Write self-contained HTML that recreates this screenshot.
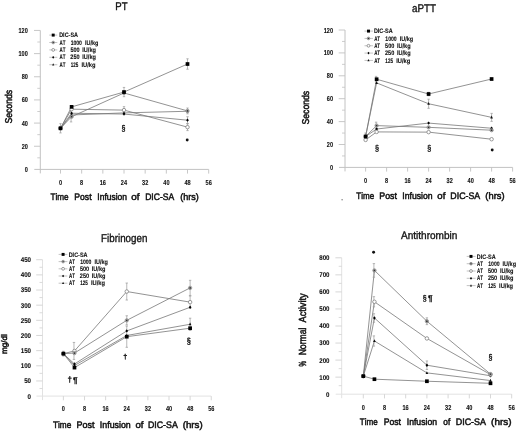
<!DOCTYPE html>
<html><head><meta charset="utf-8"><style>
html,body{margin:0;padding:0;background:#fff;}
svg{display:block;font-family:"Liberation Sans", sans-serif;filter:grayscale(1) blur(0.3px);text-rendering:geometricPrecision;font-kerning:none;}
</style></head><body>
<svg width="520" height="432" viewBox="0 0 520 432">
<rect width="520" height="432" fill="#fff"/>
<line x1="40.30" y1="30.44" x2="40.30" y2="173.40" stroke="#c2c2c2" stroke-width="1.0"/>
<line x1="34.30" y1="169.40" x2="208.68" y2="169.40" stroke="#c2c2c2" stroke-width="1.0"/>
<text x="24.73" y="171.90" font-size="7.16" font-weight="bold" fill="#111" textLength="3.10" lengthAdjust="spacingAndGlyphs" stroke="#111" stroke-width="0.1">0</text>
<line x1="34.00" y1="146.24" x2="40.30" y2="146.24" stroke="#c2c2c2" stroke-width="0.9"/>
<text x="21.63" y="148.74" font-size="7.16" font-weight="bold" fill="#111" textLength="6.20" lengthAdjust="spacingAndGlyphs" stroke="#111" stroke-width="0.1">20</text>
<line x1="34.00" y1="123.08" x2="40.30" y2="123.08" stroke="#c2c2c2" stroke-width="0.9"/>
<text x="21.63" y="125.58" font-size="7.16" font-weight="bold" fill="#111" textLength="6.20" lengthAdjust="spacingAndGlyphs" stroke="#111" stroke-width="0.1">40</text>
<line x1="34.00" y1="99.92" x2="40.30" y2="99.92" stroke="#c2c2c2" stroke-width="0.9"/>
<text x="21.63" y="102.42" font-size="7.16" font-weight="bold" fill="#111" textLength="6.20" lengthAdjust="spacingAndGlyphs" stroke="#111" stroke-width="0.1">60</text>
<line x1="34.00" y1="76.76" x2="40.30" y2="76.76" stroke="#c2c2c2" stroke-width="0.9"/>
<text x="21.63" y="79.26" font-size="7.16" font-weight="bold" fill="#111" textLength="6.20" lengthAdjust="spacingAndGlyphs" stroke="#111" stroke-width="0.1">80</text>
<line x1="34.00" y1="53.60" x2="40.30" y2="53.60" stroke="#c2c2c2" stroke-width="0.9"/>
<text x="18.53" y="56.10" font-size="7.16" font-weight="bold" fill="#111" textLength="9.30" lengthAdjust="spacingAndGlyphs" stroke="#111" stroke-width="0.1">100</text>
<line x1="34.00" y1="30.44" x2="40.30" y2="30.44" stroke="#c2c2c2" stroke-width="0.9"/>
<text x="18.53" y="32.94" font-size="7.16" font-weight="bold" fill="#111" textLength="9.30" lengthAdjust="spacingAndGlyphs" stroke="#111" stroke-width="0.1">120</text>
<line x1="37.30" y1="157.82" x2="40.30" y2="157.82" stroke="#c2c2c2" stroke-width="0.8"/>
<line x1="37.30" y1="134.66" x2="40.30" y2="134.66" stroke="#c2c2c2" stroke-width="0.8"/>
<line x1="37.30" y1="111.50" x2="40.30" y2="111.50" stroke="#c2c2c2" stroke-width="0.8"/>
<line x1="37.30" y1="88.34" x2="40.30" y2="88.34" stroke="#c2c2c2" stroke-width="0.8"/>
<line x1="37.30" y1="65.18" x2="40.30" y2="65.18" stroke="#c2c2c2" stroke-width="0.8"/>
<line x1="37.30" y1="42.02" x2="40.30" y2="42.02" stroke="#c2c2c2" stroke-width="0.8"/>
<line x1="60.50" y1="169.40" x2="60.50" y2="173.60" stroke="#c2c2c2" stroke-width="0.9"/>
<text x="58.95" y="184.90" font-size="7.16" font-weight="bold" fill="#111" textLength="3.10" lengthAdjust="spacingAndGlyphs" stroke="#111" stroke-width="0.1">0</text>
<line x1="81.67" y1="169.40" x2="81.67" y2="173.60" stroke="#c2c2c2" stroke-width="0.9"/>
<text x="80.11" y="184.90" font-size="7.16" font-weight="bold" fill="#111" textLength="3.10" lengthAdjust="spacingAndGlyphs" stroke="#111" stroke-width="0.1">8</text>
<line x1="102.84" y1="169.40" x2="102.84" y2="173.60" stroke="#c2c2c2" stroke-width="0.9"/>
<text x="99.66" y="184.90" font-size="7.16" font-weight="bold" fill="#111" textLength="6.20" lengthAdjust="spacingAndGlyphs" stroke="#111" stroke-width="0.1">16</text>
<line x1="124.00" y1="169.40" x2="124.00" y2="173.60" stroke="#c2c2c2" stroke-width="0.9"/>
<text x="120.82" y="184.90" font-size="7.16" font-weight="bold" fill="#111" textLength="6.20" lengthAdjust="spacingAndGlyphs" stroke="#111" stroke-width="0.1">24</text>
<line x1="145.17" y1="169.40" x2="145.17" y2="173.60" stroke="#c2c2c2" stroke-width="0.9"/>
<text x="142.12" y="184.90" font-size="7.16" font-weight="bold" fill="#111" textLength="6.20" lengthAdjust="spacingAndGlyphs" stroke="#111" stroke-width="0.1">32</text>
<line x1="166.34" y1="169.40" x2="166.34" y2="173.60" stroke="#c2c2c2" stroke-width="0.9"/>
<text x="163.31" y="184.90" font-size="7.16" font-weight="bold" fill="#111" textLength="6.20" lengthAdjust="spacingAndGlyphs" stroke="#111" stroke-width="0.1">40</text>
<line x1="187.51" y1="169.40" x2="187.51" y2="173.60" stroke="#c2c2c2" stroke-width="0.9"/>
<text x="184.45" y="184.90" font-size="7.16" font-weight="bold" fill="#111" textLength="6.20" lengthAdjust="spacingAndGlyphs" stroke="#111" stroke-width="0.1">48</text>
<line x1="208.68" y1="169.40" x2="208.68" y2="173.60" stroke="#c2c2c2" stroke-width="0.9"/>
<text x="205.59" y="184.90" font-size="7.16" font-weight="bold" fill="#111" textLength="6.20" lengthAdjust="spacingAndGlyphs" stroke="#111" stroke-width="0.1">56</text>
<text x="115.29" y="9.52" font-size="11.12" font-weight="normal" fill="#111" textLength="12.26" lengthAdjust="spacingAndGlyphs" stroke="#111" stroke-width="0.35">PT</text>
<text x="50.47" y="199.95" font-size="9.45" font-weight="normal" fill="#111" textLength="18.15" lengthAdjust="spacingAndGlyphs" stroke="#111" stroke-width="0.5">Time</text>
<text x="74.35" y="199.95" font-size="9.45" font-weight="normal" fill="#111" textLength="17.17" lengthAdjust="spacingAndGlyphs" stroke="#111" stroke-width="0.5">Post</text>
<text x="97.37" y="199.95" font-size="9.45" font-weight="normal" fill="#111" textLength="29.63" lengthAdjust="spacingAndGlyphs" stroke="#111" stroke-width="0.5">Infusion</text>
<text x="131.34" y="199.95" font-size="9.45" font-weight="normal" fill="#111" textLength="8.20" lengthAdjust="spacingAndGlyphs" stroke="#111" stroke-width="0.5">of</text>
<text x="145.15" y="199.95" font-size="9.45" font-weight="normal" fill="#111" textLength="29.02" lengthAdjust="spacingAndGlyphs" stroke="#111" stroke-width="0.5">DIC-SA</text>
<text x="180.29" y="199.95" font-size="9.45" font-weight="normal" fill="#111" textLength="18.52" lengthAdjust="spacingAndGlyphs" stroke="#111" stroke-width="0.5">(hrs)</text>
<text x="12.45" y="123.54" font-size="9.88" font-weight="normal" fill="#111" textLength="33.71" lengthAdjust="spacingAndGlyphs" transform="rotate(-90 12.45 123.54)" stroke="#111" stroke-width="0.5">Seconds</text>
<line x1="49.30" y1="35.10" x2="57.30" y2="35.10" stroke="#aaa" stroke-width="0.7"/>
<rect x="51.72" y="33.62" width="2.96" height="2.96" fill="#000"/>
<text x="59.18" y="37.25" font-size="6.40" font-weight="bold" fill="#111" textLength="18.81" lengthAdjust="spacingAndGlyphs" stroke="#111" stroke-width="0.1">DIC-SA</text>
<line x1="49.30" y1="42.50" x2="57.30" y2="42.50" stroke="#aaa" stroke-width="0.7"/>
<circle cx="53.20" cy="42.50" r="1.36" fill="#bbb" stroke="#777" stroke-width="0.6"/>
<circle cx="53.20" cy="42.50" r="0.72" fill="#333"/>
<text x="59.44" y="44.65" font-size="6.40" font-weight="bold" fill="#111" textLength="5.96" lengthAdjust="spacingAndGlyphs" stroke="#111" stroke-width="0.1">AT</text>
<text x="70.63" y="44.65" font-size="6.40" font-weight="bold" fill="#111" textLength="11.33" lengthAdjust="spacingAndGlyphs" stroke="#111" stroke-width="0.1">1000</text>
<text x="84.98" y="44.65" font-size="6.40" font-weight="bold" fill="#111" textLength="13.44" lengthAdjust="spacingAndGlyphs" stroke="#111" stroke-width="0.1">IU/kg</text>
<line x1="49.30" y1="49.90" x2="57.30" y2="49.90" stroke="#aaa" stroke-width="0.7"/>
<circle cx="53.20" cy="49.90" r="1.40" fill="#fff" stroke="#808080" stroke-width="0.8"/>
<text x="59.44" y="52.05" font-size="6.40" font-weight="bold" fill="#111" textLength="5.96" lengthAdjust="spacingAndGlyphs" stroke="#111" stroke-width="0.1">AT</text>
<text x="70.38" y="52.05" font-size="6.40" font-weight="bold" fill="#111" textLength="9.20" lengthAdjust="spacingAndGlyphs" stroke="#111" stroke-width="0.1">500</text>
<text x="82.28" y="52.05" font-size="6.40" font-weight="bold" fill="#111" textLength="13.65" lengthAdjust="spacingAndGlyphs" stroke="#111" stroke-width="0.1">IU/kg</text>
<line x1="49.30" y1="57.30" x2="57.30" y2="57.30" stroke="#aaa" stroke-width="0.7"/>
<path d="M53.20 55.95L54.28 57.30L53.20 58.65L52.12 57.30Z" fill="#000"/>
<text x="59.44" y="59.45" font-size="6.40" font-weight="bold" fill="#111" textLength="5.96" lengthAdjust="spacingAndGlyphs" stroke="#111" stroke-width="0.1">AT</text>
<text x="70.36" y="59.45" font-size="6.40" font-weight="bold" fill="#111" textLength="9.22" lengthAdjust="spacingAndGlyphs" stroke="#111" stroke-width="0.1">250</text>
<text x="82.28" y="59.45" font-size="6.40" font-weight="bold" fill="#111" textLength="13.65" lengthAdjust="spacingAndGlyphs" stroke="#111" stroke-width="0.1">IU/kg</text>
<line x1="49.30" y1="64.70" x2="57.30" y2="64.70" stroke="#aaa" stroke-width="0.7"/>
<path d="M53.20 63.30L54.28 65.56L52.12 65.56Z" fill="#111"/>
<text x="59.44" y="66.85" font-size="6.40" font-weight="bold" fill="#111" textLength="5.96" lengthAdjust="spacingAndGlyphs" stroke="#111" stroke-width="0.1">AT</text>
<text x="70.66" y="66.85" font-size="6.40" font-weight="bold" fill="#111" textLength="7.61" lengthAdjust="spacingAndGlyphs" stroke="#111" stroke-width="0.1">125</text>
<text x="81.47" y="66.85" font-size="6.40" font-weight="bold" fill="#111" textLength="14.07" lengthAdjust="spacingAndGlyphs" stroke="#111" stroke-width="0.1">IU/kg</text>
<path d="M60.50 128.29L71.61 106.87L124.00 92.05L187.51 64.02" fill="none" stroke="#777777" stroke-width="0.8"/>
<path d="M60.50 128.29L71.61 116.71L124.00 92.97L187.51 110.92" fill="none" stroke="#777777" stroke-width="0.8"/>
<path d="M60.50 128.29L71.61 109.18L124.00 110.11L187.51 127.13" fill="none" stroke="#777777" stroke-width="0.8"/>
<path d="M60.50 128.29L71.61 113.24L124.00 114.05L187.51 120.19" fill="none" stroke="#777777" stroke-width="0.8"/>
<path d="M60.50 128.29L71.61 114.97L124.00 112.89L187.51 111.27" fill="none" stroke="#777777" stroke-width="0.8"/>
<line x1="60.50" y1="123.66" x2="60.50" y2="132.92" stroke="#9a9a9a" stroke-width="0.7"/>
<line x1="59.30" y1="123.66" x2="61.70" y2="123.66" stroke="#9a9a9a" stroke-width="0.7"/>
<line x1="59.30" y1="132.92" x2="61.70" y2="132.92" stroke="#9a9a9a" stroke-width="0.7"/>
<line x1="71.08" y1="108.03" x2="71.08" y2="121.92" stroke="#9a9a9a" stroke-width="0.7"/>
<line x1="69.88" y1="108.03" x2="72.28" y2="108.03" stroke="#9a9a9a" stroke-width="0.7"/>
<line x1="69.88" y1="121.92" x2="72.28" y2="121.92" stroke="#9a9a9a" stroke-width="0.7"/>
<line x1="124.00" y1="87.41" x2="124.00" y2="96.68" stroke="#9a9a9a" stroke-width="0.7"/>
<line x1="122.80" y1="87.41" x2="125.20" y2="87.41" stroke="#9a9a9a" stroke-width="0.7"/>
<line x1="122.80" y1="96.68" x2="125.20" y2="96.68" stroke="#9a9a9a" stroke-width="0.7"/>
<line x1="187.51" y1="58.81" x2="187.51" y2="69.23" stroke="#9a9a9a" stroke-width="0.7"/>
<line x1="186.31" y1="58.81" x2="188.71" y2="58.81" stroke="#9a9a9a" stroke-width="0.7"/>
<line x1="186.31" y1="69.23" x2="188.71" y2="69.23" stroke="#9a9a9a" stroke-width="0.7"/>
<line x1="124.00" y1="106.64" x2="124.00" y2="113.58" stroke="#9a9a9a" stroke-width="0.7"/>
<line x1="122.80" y1="106.64" x2="125.20" y2="106.64" stroke="#9a9a9a" stroke-width="0.7"/>
<line x1="122.80" y1="113.58" x2="125.20" y2="113.58" stroke="#9a9a9a" stroke-width="0.7"/>
<line x1="187.51" y1="123.66" x2="187.51" y2="130.61" stroke="#9a9a9a" stroke-width="0.7"/>
<line x1="186.31" y1="123.66" x2="188.71" y2="123.66" stroke="#9a9a9a" stroke-width="0.7"/>
<line x1="186.31" y1="130.61" x2="188.71" y2="130.61" stroke="#9a9a9a" stroke-width="0.7"/>
<line x1="187.51" y1="108.03" x2="187.51" y2="113.82" stroke="#9a9a9a" stroke-width="0.7"/>
<line x1="186.31" y1="108.03" x2="188.71" y2="108.03" stroke="#9a9a9a" stroke-width="0.7"/>
<line x1="186.31" y1="113.82" x2="188.71" y2="113.82" stroke="#9a9a9a" stroke-width="0.7"/>
<line x1="187.51" y1="116.71" x2="187.51" y2="123.66" stroke="#9a9a9a" stroke-width="0.7"/>
<line x1="186.31" y1="116.71" x2="188.71" y2="116.71" stroke="#9a9a9a" stroke-width="0.7"/>
<line x1="186.31" y1="123.66" x2="188.71" y2="123.66" stroke="#9a9a9a" stroke-width="0.7"/>
<path d="M60.50 126.54L61.85 129.37L59.15 129.37Z" fill="#111"/>
<path d="M71.61 113.22L72.96 116.05L70.26 116.05Z" fill="#111"/>
<path d="M124.00 111.13L125.35 113.97L122.65 113.97Z" fill="#111"/>
<path d="M187.51 109.51L188.86 112.35L186.16 112.35Z" fill="#111"/>
<path d="M60.50 126.60L61.85 128.29L60.50 129.98L59.15 128.29Z" fill="#000"/>
<path d="M71.61 111.55L72.96 113.24L71.61 114.92L70.26 113.24Z" fill="#000"/>
<path d="M124.00 112.36L125.35 114.05L124.00 115.74L122.65 114.05Z" fill="#000"/>
<path d="M187.51 118.50L188.86 120.19L187.51 121.87L186.16 120.19Z" fill="#000"/>
<circle cx="60.50" cy="128.29" r="1.75" fill="#fff" stroke="#808080" stroke-width="0.8"/>
<circle cx="71.61" cy="109.18" r="1.75" fill="#fff" stroke="#808080" stroke-width="0.8"/>
<circle cx="124.00" cy="110.11" r="1.75" fill="#fff" stroke="#808080" stroke-width="0.8"/>
<circle cx="187.51" cy="127.13" r="1.75" fill="#fff" stroke="#808080" stroke-width="0.8"/>
<circle cx="60.50" cy="128.29" r="1.70" fill="#bbb" stroke="#777" stroke-width="0.6"/>
<circle cx="60.50" cy="128.29" r="0.90" fill="#333"/>
<circle cx="71.61" cy="116.71" r="1.70" fill="#bbb" stroke="#777" stroke-width="0.6"/>
<circle cx="71.61" cy="116.71" r="0.90" fill="#333"/>
<circle cx="124.00" cy="92.97" r="1.70" fill="#bbb" stroke="#777" stroke-width="0.6"/>
<circle cx="124.00" cy="92.97" r="0.90" fill="#333"/>
<circle cx="187.51" cy="110.92" r="1.70" fill="#bbb" stroke="#777" stroke-width="0.6"/>
<circle cx="187.51" cy="110.92" r="0.90" fill="#333"/>
<rect x="58.65" y="126.44" width="3.70" height="3.70" fill="#000"/>
<rect x="69.76" y="105.02" width="3.70" height="3.70" fill="#000"/>
<rect x="122.15" y="90.20" width="3.70" height="3.70" fill="#000"/>
<rect x="185.66" y="62.17" width="3.70" height="3.70" fill="#000"/>
<text x="121.53" y="131.02" font-size="8.35" font-weight="normal" fill="#111" textLength="3.95" lengthAdjust="spacingAndGlyphs" stroke="#111" stroke-width="0.35">§</text>
<circle cx="187.20" cy="140.00" r="1.45" fill="#111"/>
<line x1="345.00" y1="30.00" x2="345.00" y2="171.40" stroke="#c2c2c2" stroke-width="1.0"/>
<line x1="339.00" y1="167.40" x2="512.60" y2="167.40" stroke="#c2c2c2" stroke-width="1.0"/>
<text x="329.93" y="169.90" font-size="7.16" font-weight="bold" fill="#111" textLength="3.10" lengthAdjust="spacingAndGlyphs" stroke="#111" stroke-width="0.1">0</text>
<line x1="338.70" y1="144.50" x2="345.00" y2="144.50" stroke="#c2c2c2" stroke-width="0.9"/>
<text x="326.83" y="147.00" font-size="7.16" font-weight="bold" fill="#111" textLength="6.20" lengthAdjust="spacingAndGlyphs" stroke="#111" stroke-width="0.1">20</text>
<line x1="338.70" y1="121.60" x2="345.00" y2="121.60" stroke="#c2c2c2" stroke-width="0.9"/>
<text x="326.83" y="124.10" font-size="7.16" font-weight="bold" fill="#111" textLength="6.20" lengthAdjust="spacingAndGlyphs" stroke="#111" stroke-width="0.1">40</text>
<line x1="338.70" y1="98.70" x2="345.00" y2="98.70" stroke="#c2c2c2" stroke-width="0.9"/>
<text x="326.83" y="101.20" font-size="7.16" font-weight="bold" fill="#111" textLength="6.20" lengthAdjust="spacingAndGlyphs" stroke="#111" stroke-width="0.1">60</text>
<line x1="338.70" y1="75.80" x2="345.00" y2="75.80" stroke="#c2c2c2" stroke-width="0.9"/>
<text x="326.83" y="78.30" font-size="7.16" font-weight="bold" fill="#111" textLength="6.20" lengthAdjust="spacingAndGlyphs" stroke="#111" stroke-width="0.1">80</text>
<line x1="338.70" y1="52.90" x2="345.00" y2="52.90" stroke="#c2c2c2" stroke-width="0.9"/>
<text x="323.73" y="55.40" font-size="7.16" font-weight="bold" fill="#111" textLength="9.30" lengthAdjust="spacingAndGlyphs" stroke="#111" stroke-width="0.1">100</text>
<line x1="338.70" y1="30.00" x2="345.00" y2="30.00" stroke="#c2c2c2" stroke-width="0.9"/>
<text x="323.73" y="32.50" font-size="7.16" font-weight="bold" fill="#111" textLength="9.30" lengthAdjust="spacingAndGlyphs" stroke="#111" stroke-width="0.1">120</text>
<line x1="342.00" y1="155.95" x2="345.00" y2="155.95" stroke="#c2c2c2" stroke-width="0.8"/>
<line x1="342.00" y1="133.05" x2="345.00" y2="133.05" stroke="#c2c2c2" stroke-width="0.8"/>
<line x1="342.00" y1="110.15" x2="345.00" y2="110.15" stroke="#c2c2c2" stroke-width="0.8"/>
<line x1="342.00" y1="87.25" x2="345.00" y2="87.25" stroke="#c2c2c2" stroke-width="0.8"/>
<line x1="342.00" y1="64.35" x2="345.00" y2="64.35" stroke="#c2c2c2" stroke-width="0.8"/>
<line x1="342.00" y1="41.45" x2="345.00" y2="41.45" stroke="#c2c2c2" stroke-width="0.8"/>
<line x1="365.60" y1="167.40" x2="365.60" y2="171.60" stroke="#c2c2c2" stroke-width="0.9"/>
<text x="364.05" y="183.30" font-size="7.16" font-weight="bold" fill="#111" textLength="3.10" lengthAdjust="spacingAndGlyphs" stroke="#111" stroke-width="0.1">0</text>
<line x1="386.60" y1="167.40" x2="386.60" y2="171.60" stroke="#c2c2c2" stroke-width="0.9"/>
<text x="385.05" y="183.30" font-size="7.16" font-weight="bold" fill="#111" textLength="3.10" lengthAdjust="spacingAndGlyphs" stroke="#111" stroke-width="0.1">8</text>
<line x1="407.60" y1="167.40" x2="407.60" y2="171.60" stroke="#c2c2c2" stroke-width="0.9"/>
<text x="404.42" y="183.30" font-size="7.16" font-weight="bold" fill="#111" textLength="6.20" lengthAdjust="spacingAndGlyphs" stroke="#111" stroke-width="0.1">16</text>
<line x1="428.60" y1="167.40" x2="428.60" y2="171.60" stroke="#c2c2c2" stroke-width="0.9"/>
<text x="425.42" y="183.30" font-size="7.16" font-weight="bold" fill="#111" textLength="6.20" lengthAdjust="spacingAndGlyphs" stroke="#111" stroke-width="0.1">24</text>
<line x1="449.60" y1="167.40" x2="449.60" y2="171.60" stroke="#c2c2c2" stroke-width="0.9"/>
<text x="446.55" y="183.30" font-size="7.16" font-weight="bold" fill="#111" textLength="6.20" lengthAdjust="spacingAndGlyphs" stroke="#111" stroke-width="0.1">32</text>
<line x1="470.60" y1="167.40" x2="470.60" y2="171.60" stroke="#c2c2c2" stroke-width="0.9"/>
<text x="467.57" y="183.30" font-size="7.16" font-weight="bold" fill="#111" textLength="6.20" lengthAdjust="spacingAndGlyphs" stroke="#111" stroke-width="0.1">40</text>
<line x1="491.60" y1="167.40" x2="491.60" y2="171.60" stroke="#c2c2c2" stroke-width="0.9"/>
<text x="488.54" y="183.30" font-size="7.16" font-weight="bold" fill="#111" textLength="6.20" lengthAdjust="spacingAndGlyphs" stroke="#111" stroke-width="0.1">48</text>
<line x1="512.60" y1="167.40" x2="512.60" y2="171.60" stroke="#c2c2c2" stroke-width="0.9"/>
<text x="509.51" y="183.30" font-size="7.16" font-weight="bold" fill="#111" textLength="6.20" lengthAdjust="spacingAndGlyphs" stroke="#111" stroke-width="0.1">56</text>
<text x="412.06" y="11.82" font-size="11.12" font-weight="normal" fill="#111" textLength="23.99" lengthAdjust="spacingAndGlyphs" stroke="#111" stroke-width="0.35">aPTT</text>
<text x="356.27" y="198.55" font-size="9.45" font-weight="normal" fill="#111" textLength="17.84" lengthAdjust="spacingAndGlyphs" stroke="#111" stroke-width="0.5">Time</text>
<text x="379.33" y="198.55" font-size="9.45" font-weight="normal" fill="#111" textLength="17.59" lengthAdjust="spacingAndGlyphs" stroke="#111" stroke-width="0.5">Post</text>
<text x="402.35" y="198.55" font-size="9.45" font-weight="normal" fill="#111" textLength="30.26" lengthAdjust="spacingAndGlyphs" stroke="#111" stroke-width="0.5">Infusion</text>
<text x="437.35" y="198.55" font-size="9.45" font-weight="normal" fill="#111" textLength="7.99" lengthAdjust="spacingAndGlyphs" stroke="#111" stroke-width="0.5">of</text>
<text x="450.33" y="198.55" font-size="9.45" font-weight="normal" fill="#111" textLength="29.94" lengthAdjust="spacingAndGlyphs" stroke="#111" stroke-width="0.5">DIC-SA</text>
<text x="485.37" y="198.55" font-size="9.45" font-weight="normal" fill="#111" textLength="19.16" lengthAdjust="spacingAndGlyphs" stroke="#111" stroke-width="0.5">(hrs)</text>
<text x="308.75" y="124.54" font-size="9.88" font-weight="normal" fill="#111" textLength="33.71" lengthAdjust="spacingAndGlyphs" transform="rotate(-90 308.75 124.54)" stroke="#111" stroke-width="0.5">Seconds</text>
<line x1="364.50" y1="31.10" x2="373.00" y2="31.10" stroke="#aaa" stroke-width="0.7"/>
<rect x="367.02" y="29.62" width="2.96" height="2.96" fill="#000"/>
<text x="373.88" y="33.25" font-size="6.40" font-weight="bold" fill="#111" textLength="18.81" lengthAdjust="spacingAndGlyphs" stroke="#111" stroke-width="0.1">DIC-SA</text>
<line x1="364.50" y1="38.43" x2="373.00" y2="38.43" stroke="#aaa" stroke-width="0.7"/>
<circle cx="368.50" cy="38.43" r="1.36" fill="#bbb" stroke="#777" stroke-width="0.6"/>
<circle cx="368.50" cy="38.43" r="0.72" fill="#333"/>
<text x="374.14" y="40.58" font-size="6.40" font-weight="bold" fill="#111" textLength="5.96" lengthAdjust="spacingAndGlyphs" stroke="#111" stroke-width="0.1">AT</text>
<text x="385.33" y="40.58" font-size="6.40" font-weight="bold" fill="#111" textLength="11.33" lengthAdjust="spacingAndGlyphs" stroke="#111" stroke-width="0.1">1000</text>
<text x="399.68" y="40.58" font-size="6.40" font-weight="bold" fill="#111" textLength="13.44" lengthAdjust="spacingAndGlyphs" stroke="#111" stroke-width="0.1">IU/kg</text>
<line x1="364.50" y1="45.76" x2="373.00" y2="45.76" stroke="#aaa" stroke-width="0.7"/>
<circle cx="368.50" cy="45.76" r="1.40" fill="#fff" stroke="#808080" stroke-width="0.8"/>
<text x="374.14" y="47.91" font-size="6.40" font-weight="bold" fill="#111" textLength="5.96" lengthAdjust="spacingAndGlyphs" stroke="#111" stroke-width="0.1">AT</text>
<text x="385.08" y="47.91" font-size="6.40" font-weight="bold" fill="#111" textLength="9.20" lengthAdjust="spacingAndGlyphs" stroke="#111" stroke-width="0.1">500</text>
<text x="396.98" y="47.91" font-size="6.40" font-weight="bold" fill="#111" textLength="13.65" lengthAdjust="spacingAndGlyphs" stroke="#111" stroke-width="0.1">IU/kg</text>
<line x1="364.50" y1="53.09" x2="373.00" y2="53.09" stroke="#aaa" stroke-width="0.7"/>
<path d="M368.50 51.74L369.58 53.09L368.50 54.44L367.42 53.09Z" fill="#000"/>
<text x="374.14" y="55.24" font-size="6.40" font-weight="bold" fill="#111" textLength="5.96" lengthAdjust="spacingAndGlyphs" stroke="#111" stroke-width="0.1">AT</text>
<text x="385.06" y="55.24" font-size="6.40" font-weight="bold" fill="#111" textLength="9.22" lengthAdjust="spacingAndGlyphs" stroke="#111" stroke-width="0.1">250</text>
<text x="396.98" y="55.24" font-size="6.40" font-weight="bold" fill="#111" textLength="13.65" lengthAdjust="spacingAndGlyphs" stroke="#111" stroke-width="0.1">IU/kg</text>
<line x1="364.50" y1="60.42" x2="373.00" y2="60.42" stroke="#aaa" stroke-width="0.7"/>
<path d="M368.50 59.02L369.58 61.28L367.42 61.28Z" fill="#111"/>
<text x="374.14" y="62.57" font-size="6.40" font-weight="bold" fill="#111" textLength="5.96" lengthAdjust="spacingAndGlyphs" stroke="#111" stroke-width="0.1">AT</text>
<text x="385.36" y="62.57" font-size="6.40" font-weight="bold" fill="#111" textLength="7.61" lengthAdjust="spacingAndGlyphs" stroke="#111" stroke-width="0.1">125</text>
<text x="396.17" y="62.57" font-size="6.40" font-weight="bold" fill="#111" textLength="14.07" lengthAdjust="spacingAndGlyphs" stroke="#111" stroke-width="0.1">IU/kg</text>
<path d="M365.60 136.49L376.62 79.23L428.60 94.01L491.60 79.01" fill="none" stroke="#777777" stroke-width="0.8"/>
<path d="M365.60 136.49L376.62 125.61L428.60 127.33L491.60 130.19" fill="none" stroke="#777777" stroke-width="0.8"/>
<path d="M365.60 139.92L376.62 131.91L428.60 132.13L491.60 139.23" fill="none" stroke="#777777" stroke-width="0.8"/>
<path d="M365.60 136.49L376.62 129.04L428.60 123.09L491.60 128.24" fill="none" stroke="#777777" stroke-width="0.8"/>
<path d="M365.60 136.49L376.62 82.90L428.60 103.74L491.60 117.36" fill="none" stroke="#777777" stroke-width="0.8"/>
<line x1="365.60" y1="133.05" x2="365.60" y2="139.92" stroke="#9a9a9a" stroke-width="0.7"/>
<line x1="364.40" y1="133.05" x2="366.80" y2="133.05" stroke="#9a9a9a" stroke-width="0.7"/>
<line x1="364.40" y1="139.92" x2="366.80" y2="139.92" stroke="#9a9a9a" stroke-width="0.7"/>
<line x1="376.10" y1="76.37" x2="376.10" y2="82.10" stroke="#9a9a9a" stroke-width="0.7"/>
<line x1="374.90" y1="76.37" x2="377.30" y2="76.37" stroke="#9a9a9a" stroke-width="0.7"/>
<line x1="374.90" y1="82.10" x2="377.30" y2="82.10" stroke="#9a9a9a" stroke-width="0.7"/>
<line x1="376.10" y1="122.17" x2="376.10" y2="129.04" stroke="#9a9a9a" stroke-width="0.7"/>
<line x1="374.90" y1="122.17" x2="377.30" y2="122.17" stroke="#9a9a9a" stroke-width="0.7"/>
<line x1="374.90" y1="129.04" x2="377.30" y2="129.04" stroke="#9a9a9a" stroke-width="0.7"/>
<line x1="428.60" y1="99.16" x2="428.60" y2="108.32" stroke="#9a9a9a" stroke-width="0.7"/>
<line x1="427.40" y1="99.16" x2="429.80" y2="99.16" stroke="#9a9a9a" stroke-width="0.7"/>
<line x1="427.40" y1="108.32" x2="429.80" y2="108.32" stroke="#9a9a9a" stroke-width="0.7"/>
<line x1="491.60" y1="113.36" x2="491.60" y2="121.37" stroke="#9a9a9a" stroke-width="0.7"/>
<line x1="490.40" y1="113.36" x2="492.80" y2="113.36" stroke="#9a9a9a" stroke-width="0.7"/>
<line x1="490.40" y1="121.37" x2="492.80" y2="121.37" stroke="#9a9a9a" stroke-width="0.7"/>
<line x1="428.60" y1="92.29" x2="428.60" y2="95.72" stroke="#9a9a9a" stroke-width="0.7"/>
<line x1="427.40" y1="92.29" x2="429.80" y2="92.29" stroke="#9a9a9a" stroke-width="0.7"/>
<line x1="427.40" y1="95.72" x2="429.80" y2="95.72" stroke="#9a9a9a" stroke-width="0.7"/>
<path d="M365.60 134.73L366.95 137.57L364.25 137.57Z" fill="#111"/>
<path d="M376.62 81.14L377.98 83.98L375.27 83.98Z" fill="#111"/>
<path d="M428.60 101.98L429.95 104.82L427.25 104.82Z" fill="#111"/>
<path d="M491.60 115.61L492.95 118.44L490.25 118.44Z" fill="#111"/>
<path d="M365.60 134.80L366.95 136.49L365.60 138.17L364.25 136.49Z" fill="#000"/>
<path d="M376.62 127.36L377.98 129.04L376.62 130.73L375.27 129.04Z" fill="#000"/>
<path d="M428.60 121.40L429.95 123.09L428.60 124.78L427.25 123.09Z" fill="#000"/>
<path d="M491.60 126.55L492.95 128.24L491.60 129.93L490.25 128.24Z" fill="#000"/>
<circle cx="365.60" cy="139.92" r="1.75" fill="#fff" stroke="#808080" stroke-width="0.8"/>
<circle cx="376.62" cy="131.91" r="1.75" fill="#fff" stroke="#808080" stroke-width="0.8"/>
<circle cx="428.60" cy="132.13" r="1.75" fill="#fff" stroke="#808080" stroke-width="0.8"/>
<circle cx="491.60" cy="139.23" r="1.75" fill="#fff" stroke="#808080" stroke-width="0.8"/>
<circle cx="365.60" cy="136.49" r="1.70" fill="#bbb" stroke="#777" stroke-width="0.6"/>
<circle cx="365.60" cy="136.49" r="0.90" fill="#333"/>
<circle cx="376.62" cy="125.61" r="1.70" fill="#bbb" stroke="#777" stroke-width="0.6"/>
<circle cx="376.62" cy="125.61" r="0.90" fill="#333"/>
<circle cx="428.60" cy="127.33" r="1.70" fill="#bbb" stroke="#777" stroke-width="0.6"/>
<circle cx="428.60" cy="127.33" r="0.90" fill="#333"/>
<circle cx="491.60" cy="130.19" r="1.70" fill="#bbb" stroke="#777" stroke-width="0.6"/>
<circle cx="491.60" cy="130.19" r="0.90" fill="#333"/>
<rect x="363.75" y="134.64" width="3.70" height="3.70" fill="#000"/>
<rect x="374.77" y="77.39" width="3.70" height="3.70" fill="#000"/>
<rect x="426.75" y="92.16" width="3.70" height="3.70" fill="#000"/>
<rect x="489.75" y="77.16" width="3.70" height="3.70" fill="#000"/>
<text x="375.10" y="150.81" font-size="8.47" font-weight="normal" fill="#111" textLength="4.00" lengthAdjust="spacingAndGlyphs" stroke="#111" stroke-width="0.35">§</text>
<text x="427.20" y="150.81" font-size="8.47" font-weight="normal" fill="#111" textLength="4.00" lengthAdjust="spacingAndGlyphs" stroke="#111" stroke-width="0.35">§</text>
<circle cx="492.20" cy="150.00" r="1.45" fill="#111"/>
<line x1="42.50" y1="259.71" x2="42.50" y2="400.10" stroke="#e2e2e2" stroke-width="1.0"/>
<line x1="36.50" y1="396.10" x2="211.24" y2="396.10" stroke="#e2e2e2" stroke-width="1.0"/>
<text x="27.60" y="398.50" font-size="6.88" font-weight="bold" fill="#111" textLength="3.45" lengthAdjust="spacingAndGlyphs" stroke="#111" stroke-width="0.1">0</text>
<line x1="36.20" y1="380.95" x2="42.50" y2="380.95" stroke="#d2d2d2" stroke-width="0.9"/>
<text x="24.15" y="383.35" font-size="6.88" font-weight="bold" fill="#111" textLength="6.90" lengthAdjust="spacingAndGlyphs" stroke="#111" stroke-width="0.1">50</text>
<line x1="36.20" y1="365.79" x2="42.50" y2="365.79" stroke="#d2d2d2" stroke-width="0.9"/>
<text x="20.70" y="368.19" font-size="6.88" font-weight="bold" fill="#111" textLength="10.35" lengthAdjust="spacingAndGlyphs" stroke="#111" stroke-width="0.1">100</text>
<line x1="36.20" y1="350.64" x2="42.50" y2="350.64" stroke="#d2d2d2" stroke-width="0.9"/>
<text x="20.70" y="353.04" font-size="6.88" font-weight="bold" fill="#111" textLength="10.35" lengthAdjust="spacingAndGlyphs" stroke="#111" stroke-width="0.1">150</text>
<line x1="36.20" y1="335.48" x2="42.50" y2="335.48" stroke="#d2d2d2" stroke-width="0.9"/>
<text x="20.70" y="337.88" font-size="6.88" font-weight="bold" fill="#111" textLength="10.35" lengthAdjust="spacingAndGlyphs" stroke="#111" stroke-width="0.1">200</text>
<line x1="36.20" y1="320.33" x2="42.50" y2="320.33" stroke="#d2d2d2" stroke-width="0.9"/>
<text x="20.70" y="322.73" font-size="6.88" font-weight="bold" fill="#111" textLength="10.35" lengthAdjust="spacingAndGlyphs" stroke="#111" stroke-width="0.1">250</text>
<line x1="36.20" y1="305.17" x2="42.50" y2="305.17" stroke="#d2d2d2" stroke-width="0.9"/>
<text x="20.70" y="307.57" font-size="6.88" font-weight="bold" fill="#111" textLength="10.35" lengthAdjust="spacingAndGlyphs" stroke="#111" stroke-width="0.1">300</text>
<line x1="36.20" y1="290.02" x2="42.50" y2="290.02" stroke="#d2d2d2" stroke-width="0.9"/>
<text x="20.70" y="292.42" font-size="6.88" font-weight="bold" fill="#111" textLength="10.35" lengthAdjust="spacingAndGlyphs" stroke="#111" stroke-width="0.1">350</text>
<line x1="36.20" y1="274.86" x2="42.50" y2="274.86" stroke="#d2d2d2" stroke-width="0.9"/>
<text x="20.70" y="277.26" font-size="6.88" font-weight="bold" fill="#111" textLength="10.35" lengthAdjust="spacingAndGlyphs" stroke="#111" stroke-width="0.1">400</text>
<line x1="36.20" y1="259.71" x2="42.50" y2="259.71" stroke="#d2d2d2" stroke-width="0.9"/>
<text x="20.70" y="262.11" font-size="6.88" font-weight="bold" fill="#111" textLength="10.35" lengthAdjust="spacingAndGlyphs" stroke="#111" stroke-width="0.1">450</text>
<line x1="39.50" y1="388.52" x2="42.50" y2="388.52" stroke="#d2d2d2" stroke-width="0.8"/>
<line x1="39.50" y1="373.37" x2="42.50" y2="373.37" stroke="#d2d2d2" stroke-width="0.8"/>
<line x1="39.50" y1="358.21" x2="42.50" y2="358.21" stroke="#d2d2d2" stroke-width="0.8"/>
<line x1="39.50" y1="343.06" x2="42.50" y2="343.06" stroke="#d2d2d2" stroke-width="0.8"/>
<line x1="39.50" y1="327.90" x2="42.50" y2="327.90" stroke="#d2d2d2" stroke-width="0.8"/>
<line x1="39.50" y1="312.75" x2="42.50" y2="312.75" stroke="#d2d2d2" stroke-width="0.8"/>
<line x1="39.50" y1="297.59" x2="42.50" y2="297.59" stroke="#d2d2d2" stroke-width="0.8"/>
<line x1="39.50" y1="282.44" x2="42.50" y2="282.44" stroke="#d2d2d2" stroke-width="0.8"/>
<line x1="39.50" y1="267.28" x2="42.50" y2="267.28" stroke="#d2d2d2" stroke-width="0.8"/>
<line x1="63.40" y1="396.10" x2="63.40" y2="400.30" stroke="#d2d2d2" stroke-width="0.9"/>
<text x="61.85" y="411.10" font-size="7.16" font-weight="bold" fill="#111" textLength="3.10" lengthAdjust="spacingAndGlyphs" stroke="#111" stroke-width="0.1">0</text>
<line x1="84.52" y1="396.10" x2="84.52" y2="400.30" stroke="#d2d2d2" stroke-width="0.9"/>
<text x="82.97" y="411.10" font-size="7.16" font-weight="bold" fill="#111" textLength="3.10" lengthAdjust="spacingAndGlyphs" stroke="#111" stroke-width="0.1">8</text>
<line x1="105.64" y1="396.10" x2="105.64" y2="400.30" stroke="#d2d2d2" stroke-width="0.9"/>
<text x="102.46" y="411.10" font-size="7.16" font-weight="bold" fill="#111" textLength="6.20" lengthAdjust="spacingAndGlyphs" stroke="#111" stroke-width="0.1">16</text>
<line x1="126.76" y1="396.10" x2="126.76" y2="400.30" stroke="#d2d2d2" stroke-width="0.9"/>
<text x="123.58" y="411.10" font-size="7.16" font-weight="bold" fill="#111" textLength="6.20" lengthAdjust="spacingAndGlyphs" stroke="#111" stroke-width="0.1">24</text>
<line x1="147.88" y1="396.10" x2="147.88" y2="400.30" stroke="#d2d2d2" stroke-width="0.9"/>
<text x="144.83" y="411.10" font-size="7.16" font-weight="bold" fill="#111" textLength="6.20" lengthAdjust="spacingAndGlyphs" stroke="#111" stroke-width="0.1">32</text>
<line x1="169.00" y1="396.10" x2="169.00" y2="400.30" stroke="#d2d2d2" stroke-width="0.9"/>
<text x="165.97" y="411.10" font-size="7.16" font-weight="bold" fill="#111" textLength="6.20" lengthAdjust="spacingAndGlyphs" stroke="#111" stroke-width="0.1">40</text>
<line x1="190.12" y1="396.10" x2="190.12" y2="400.30" stroke="#d2d2d2" stroke-width="0.9"/>
<text x="187.06" y="411.10" font-size="7.16" font-weight="bold" fill="#111" textLength="6.20" lengthAdjust="spacingAndGlyphs" stroke="#111" stroke-width="0.1">48</text>
<line x1="211.24" y1="396.10" x2="211.24" y2="400.30" stroke="#d2d2d2" stroke-width="0.9"/>
<text x="208.15" y="411.10" font-size="7.16" font-weight="bold" fill="#111" textLength="6.20" lengthAdjust="spacingAndGlyphs" stroke="#111" stroke-width="0.1">56</text>
<text x="101.12" y="241.67" font-size="11.41" font-weight="normal" fill="#111" textLength="46.24" lengthAdjust="spacingAndGlyphs" stroke="#111" stroke-width="0.35">Fibrinogen</text>
<text x="52.96" y="427.85" font-size="9.45" font-weight="normal" fill="#111" textLength="18.35" lengthAdjust="spacingAndGlyphs" stroke="#111" stroke-width="0.5">Time</text>
<text x="76.41" y="427.85" font-size="9.45" font-weight="normal" fill="#111" textLength="18.00" lengthAdjust="spacingAndGlyphs" stroke="#111" stroke-width="0.5">Post</text>
<text x="99.84" y="427.85" font-size="9.45" font-weight="normal" fill="#111" textLength="30.89" lengthAdjust="spacingAndGlyphs" stroke="#111" stroke-width="0.5">Infusion</text>
<text x="135.45" y="427.85" font-size="9.45" font-weight="normal" fill="#111" textLength="7.99" lengthAdjust="spacingAndGlyphs" stroke="#111" stroke-width="0.5">of</text>
<text x="148.03" y="427.85" font-size="9.45" font-weight="normal" fill="#111" textLength="29.74" lengthAdjust="spacingAndGlyphs" stroke="#111" stroke-width="0.5">DIC-SA</text>
<text x="182.75" y="427.85" font-size="9.45" font-weight="normal" fill="#111" textLength="19.90" lengthAdjust="spacingAndGlyphs" stroke="#111" stroke-width="0.5">(hrs)</text>
<text x="7.35" y="353.99" font-size="8.14" font-weight="normal" fill="#111" textLength="19.88" lengthAdjust="spacingAndGlyphs" transform="rotate(-90 7.35 353.99)" stroke="#111" stroke-width="0.5">mg/dl</text>
<line x1="58.60" y1="254.40" x2="67.40" y2="254.40" stroke="#aaa" stroke-width="0.7"/>
<rect x="61.62" y="252.92" width="2.96" height="2.96" fill="#000"/>
<text x="68.68" y="256.55" font-size="6.40" font-weight="bold" fill="#111" textLength="18.81" lengthAdjust="spacingAndGlyphs" stroke="#111" stroke-width="0.1">DIC-SA</text>
<line x1="58.60" y1="261.60" x2="67.40" y2="261.60" stroke="#aaa" stroke-width="0.7"/>
<circle cx="63.10" cy="261.60" r="1.36" fill="#bbb" stroke="#777" stroke-width="0.6"/>
<circle cx="63.10" cy="261.60" r="0.72" fill="#333"/>
<text x="68.94" y="263.75" font-size="6.40" font-weight="bold" fill="#111" textLength="5.96" lengthAdjust="spacingAndGlyphs" stroke="#111" stroke-width="0.1">AT</text>
<text x="80.13" y="263.75" font-size="6.40" font-weight="bold" fill="#111" textLength="11.33" lengthAdjust="spacingAndGlyphs" stroke="#111" stroke-width="0.1">1000</text>
<text x="94.48" y="263.75" font-size="6.40" font-weight="bold" fill="#111" textLength="13.44" lengthAdjust="spacingAndGlyphs" stroke="#111" stroke-width="0.1">IU/kg</text>
<line x1="58.60" y1="268.80" x2="67.40" y2="268.80" stroke="#aaa" stroke-width="0.7"/>
<circle cx="63.10" cy="268.80" r="1.40" fill="#fff" stroke="#808080" stroke-width="0.8"/>
<text x="68.94" y="270.95" font-size="6.40" font-weight="bold" fill="#111" textLength="5.96" lengthAdjust="spacingAndGlyphs" stroke="#111" stroke-width="0.1">AT</text>
<text x="79.88" y="270.95" font-size="6.40" font-weight="bold" fill="#111" textLength="9.20" lengthAdjust="spacingAndGlyphs" stroke="#111" stroke-width="0.1">500</text>
<text x="91.78" y="270.95" font-size="6.40" font-weight="bold" fill="#111" textLength="13.65" lengthAdjust="spacingAndGlyphs" stroke="#111" stroke-width="0.1">IU/kg</text>
<line x1="58.60" y1="276.00" x2="67.40" y2="276.00" stroke="#aaa" stroke-width="0.7"/>
<path d="M63.10 274.65L64.18 276.00L63.10 277.35L62.02 276.00Z" fill="#000"/>
<text x="68.94" y="278.15" font-size="6.40" font-weight="bold" fill="#111" textLength="5.96" lengthAdjust="spacingAndGlyphs" stroke="#111" stroke-width="0.1">AT</text>
<text x="79.86" y="278.15" font-size="6.40" font-weight="bold" fill="#111" textLength="9.22" lengthAdjust="spacingAndGlyphs" stroke="#111" stroke-width="0.1">250</text>
<text x="91.78" y="278.15" font-size="6.40" font-weight="bold" fill="#111" textLength="13.65" lengthAdjust="spacingAndGlyphs" stroke="#111" stroke-width="0.1">IU/kg</text>
<line x1="58.60" y1="283.20" x2="67.40" y2="283.20" stroke="#aaa" stroke-width="0.7"/>
<path d="M63.10 281.80L64.18 284.06L62.02 284.06Z" fill="#111"/>
<text x="68.94" y="285.35" font-size="6.40" font-weight="bold" fill="#111" textLength="5.96" lengthAdjust="spacingAndGlyphs" stroke="#111" stroke-width="0.1">AT</text>
<text x="80.16" y="285.35" font-size="6.40" font-weight="bold" fill="#111" textLength="7.61" lengthAdjust="spacingAndGlyphs" stroke="#111" stroke-width="0.1">125</text>
<text x="90.97" y="285.35" font-size="6.40" font-weight="bold" fill="#111" textLength="14.07" lengthAdjust="spacingAndGlyphs" stroke="#111" stroke-width="0.1">IU/kg</text>
<path d="M63.40 353.67L74.49 367.61L126.76 336.69L190.12 328.21" fill="none" stroke="#777777" stroke-width="0.8"/>
<path d="M63.40 353.67L74.49 353.06L126.76 320.33L190.12 287.89" fill="none" stroke="#777777" stroke-width="0.8"/>
<path d="M63.40 353.67L74.49 350.94L126.76 291.53L190.12 302.14" fill="none" stroke="#777777" stroke-width="0.8"/>
<path d="M63.40 353.67L74.49 363.97L126.76 330.93L190.12 307.29" fill="none" stroke="#777777" stroke-width="0.8"/>
<path d="M63.40 353.67L74.49 365.49L126.76 335.48L190.12 324.27" fill="none" stroke="#777777" stroke-width="0.8"/>
<line x1="73.96" y1="342.45" x2="73.96" y2="359.42" stroke="#9a9a9a" stroke-width="0.7"/>
<line x1="72.76" y1="342.45" x2="75.16" y2="342.45" stroke="#9a9a9a" stroke-width="0.7"/>
<line x1="72.76" y1="359.42" x2="75.16" y2="359.42" stroke="#9a9a9a" stroke-width="0.7"/>
<line x1="126.76" y1="283.04" x2="126.76" y2="300.02" stroke="#9a9a9a" stroke-width="0.7"/>
<line x1="125.56" y1="283.04" x2="127.96" y2="283.04" stroke="#9a9a9a" stroke-width="0.7"/>
<line x1="125.56" y1="300.02" x2="127.96" y2="300.02" stroke="#9a9a9a" stroke-width="0.7"/>
<line x1="126.76" y1="326.08" x2="126.76" y2="347.30" stroke="#9a9a9a" stroke-width="0.7"/>
<line x1="125.56" y1="326.08" x2="127.96" y2="326.08" stroke="#9a9a9a" stroke-width="0.7"/>
<line x1="125.56" y1="347.30" x2="127.96" y2="347.30" stroke="#9a9a9a" stroke-width="0.7"/>
<line x1="126.76" y1="315.78" x2="126.76" y2="324.87" stroke="#9a9a9a" stroke-width="0.7"/>
<line x1="125.56" y1="315.78" x2="127.96" y2="315.78" stroke="#9a9a9a" stroke-width="0.7"/>
<line x1="125.56" y1="324.87" x2="127.96" y2="324.87" stroke="#9a9a9a" stroke-width="0.7"/>
<line x1="190.12" y1="280.32" x2="190.12" y2="295.47" stroke="#9a9a9a" stroke-width="0.7"/>
<line x1="188.92" y1="280.32" x2="191.32" y2="280.32" stroke="#9a9a9a" stroke-width="0.7"/>
<line x1="188.92" y1="295.47" x2="191.32" y2="295.47" stroke="#9a9a9a" stroke-width="0.7"/>
<line x1="190.12" y1="296.08" x2="190.12" y2="308.20" stroke="#9a9a9a" stroke-width="0.7"/>
<line x1="188.92" y1="296.08" x2="191.32" y2="296.08" stroke="#9a9a9a" stroke-width="0.7"/>
<line x1="188.92" y1="308.20" x2="191.32" y2="308.20" stroke="#9a9a9a" stroke-width="0.7"/>
<line x1="190.12" y1="318.20" x2="190.12" y2="330.33" stroke="#9a9a9a" stroke-width="0.7"/>
<line x1="188.92" y1="318.20" x2="191.32" y2="318.20" stroke="#9a9a9a" stroke-width="0.7"/>
<line x1="188.92" y1="330.33" x2="191.32" y2="330.33" stroke="#9a9a9a" stroke-width="0.7"/>
<line x1="63.40" y1="351.24" x2="63.40" y2="356.09" stroke="#9a9a9a" stroke-width="0.7"/>
<line x1="62.20" y1="351.24" x2="64.60" y2="351.24" stroke="#9a9a9a" stroke-width="0.7"/>
<line x1="62.20" y1="356.09" x2="64.60" y2="356.09" stroke="#9a9a9a" stroke-width="0.7"/>
<path d="M63.40 351.91L64.75 354.75L62.05 354.75Z" fill="#111"/>
<path d="M74.49 363.73L75.84 366.57L73.14 366.57Z" fill="#111"/>
<path d="M126.76 333.73L128.11 336.56L125.41 336.56Z" fill="#111"/>
<path d="M190.12 322.51L191.47 325.35L188.77 325.35Z" fill="#111"/>
<path d="M63.40 351.98L64.75 353.67L63.40 355.35L62.05 353.67Z" fill="#000"/>
<path d="M74.49 362.28L75.84 363.97L74.49 365.66L73.14 363.97Z" fill="#000"/>
<path d="M126.76 329.25L128.11 330.93L126.76 332.62L125.41 330.93Z" fill="#000"/>
<path d="M190.12 305.60L191.47 307.29L190.12 308.98L188.77 307.29Z" fill="#000"/>
<circle cx="63.40" cy="353.67" r="1.75" fill="#fff" stroke="#808080" stroke-width="0.8"/>
<circle cx="74.49" cy="350.94" r="1.75" fill="#fff" stroke="#808080" stroke-width="0.8"/>
<circle cx="126.76" cy="291.53" r="1.75" fill="#fff" stroke="#808080" stroke-width="0.8"/>
<circle cx="190.12" cy="302.14" r="1.75" fill="#fff" stroke="#808080" stroke-width="0.8"/>
<circle cx="63.40" cy="353.67" r="1.70" fill="#bbb" stroke="#777" stroke-width="0.6"/>
<circle cx="63.40" cy="353.67" r="0.90" fill="#333"/>
<circle cx="74.49" cy="353.06" r="1.70" fill="#bbb" stroke="#777" stroke-width="0.6"/>
<circle cx="74.49" cy="353.06" r="0.90" fill="#333"/>
<circle cx="126.76" cy="320.33" r="1.70" fill="#bbb" stroke="#777" stroke-width="0.6"/>
<circle cx="126.76" cy="320.33" r="0.90" fill="#333"/>
<circle cx="190.12" cy="287.89" r="1.70" fill="#bbb" stroke="#777" stroke-width="0.6"/>
<circle cx="190.12" cy="287.89" r="0.90" fill="#333"/>
<rect x="61.55" y="351.82" width="3.70" height="3.70" fill="#000"/>
<rect x="72.64" y="365.76" width="3.70" height="3.70" fill="#000"/>
<rect x="124.91" y="334.84" width="3.70" height="3.70" fill="#000"/>
<rect x="188.27" y="326.36" width="3.70" height="3.70" fill="#000"/>
<text x="67.49" y="382.24" font-size="7.58" font-weight="bold" fill="#111" textLength="4.42" lengthAdjust="spacingAndGlyphs" stroke="#111" stroke-width="0.3">†</text>
<text x="73.06" y="382.56" font-size="8.45" font-weight="bold" fill="#111" textLength="4.46" lengthAdjust="spacingAndGlyphs" stroke="#111" stroke-width="0.3">¶</text>
<text x="123.37" y="359.28" font-size="6.94" font-weight="bold" fill="#111" textLength="4.06" lengthAdjust="spacingAndGlyphs" stroke="#111" stroke-width="0.3">†</text>
<text x="186.84" y="344.49" font-size="8.72" font-weight="normal" fill="#111" textLength="4.12" lengthAdjust="spacingAndGlyphs" stroke="#111" stroke-width="0.35">§</text>
<line x1="341.70" y1="257.80" x2="341.70" y2="398.20" stroke="#e2e2e2" stroke-width="1.0"/>
<line x1="335.70" y1="394.20" x2="511.70" y2="394.20" stroke="#e2e2e2" stroke-width="1.0"/>
<text x="326.05" y="396.60" font-size="6.88" font-weight="bold" fill="#111" textLength="3.40" lengthAdjust="spacingAndGlyphs" stroke="#111" stroke-width="0.1">0</text>
<line x1="335.40" y1="377.15" x2="341.70" y2="377.15" stroke="#d2d2d2" stroke-width="0.9"/>
<text x="319.25" y="379.55" font-size="6.88" font-weight="bold" fill="#111" textLength="10.20" lengthAdjust="spacingAndGlyphs" stroke="#111" stroke-width="0.1">100</text>
<line x1="335.40" y1="360.10" x2="341.70" y2="360.10" stroke="#d2d2d2" stroke-width="0.9"/>
<text x="319.25" y="362.50" font-size="6.88" font-weight="bold" fill="#111" textLength="10.20" lengthAdjust="spacingAndGlyphs" stroke="#111" stroke-width="0.1">200</text>
<line x1="335.40" y1="343.05" x2="341.70" y2="343.05" stroke="#d2d2d2" stroke-width="0.9"/>
<text x="319.25" y="345.45" font-size="6.88" font-weight="bold" fill="#111" textLength="10.20" lengthAdjust="spacingAndGlyphs" stroke="#111" stroke-width="0.1">300</text>
<line x1="335.40" y1="326.00" x2="341.70" y2="326.00" stroke="#d2d2d2" stroke-width="0.9"/>
<text x="319.25" y="328.40" font-size="6.88" font-weight="bold" fill="#111" textLength="10.20" lengthAdjust="spacingAndGlyphs" stroke="#111" stroke-width="0.1">400</text>
<line x1="335.40" y1="308.95" x2="341.70" y2="308.95" stroke="#d2d2d2" stroke-width="0.9"/>
<text x="319.25" y="311.35" font-size="6.88" font-weight="bold" fill="#111" textLength="10.20" lengthAdjust="spacingAndGlyphs" stroke="#111" stroke-width="0.1">500</text>
<line x1="335.40" y1="291.90" x2="341.70" y2="291.90" stroke="#d2d2d2" stroke-width="0.9"/>
<text x="319.25" y="294.30" font-size="6.88" font-weight="bold" fill="#111" textLength="10.20" lengthAdjust="spacingAndGlyphs" stroke="#111" stroke-width="0.1">600</text>
<line x1="335.40" y1="274.85" x2="341.70" y2="274.85" stroke="#d2d2d2" stroke-width="0.9"/>
<text x="319.25" y="277.25" font-size="6.88" font-weight="bold" fill="#111" textLength="10.20" lengthAdjust="spacingAndGlyphs" stroke="#111" stroke-width="0.1">700</text>
<line x1="335.40" y1="257.80" x2="341.70" y2="257.80" stroke="#d2d2d2" stroke-width="0.9"/>
<text x="319.25" y="260.20" font-size="6.88" font-weight="bold" fill="#111" textLength="10.20" lengthAdjust="spacingAndGlyphs" stroke="#111" stroke-width="0.1">800</text>
<line x1="338.70" y1="385.68" x2="341.70" y2="385.68" stroke="#d2d2d2" stroke-width="0.8"/>
<line x1="338.70" y1="368.62" x2="341.70" y2="368.62" stroke="#d2d2d2" stroke-width="0.8"/>
<line x1="338.70" y1="351.57" x2="341.70" y2="351.57" stroke="#d2d2d2" stroke-width="0.8"/>
<line x1="338.70" y1="334.52" x2="341.70" y2="334.52" stroke="#d2d2d2" stroke-width="0.8"/>
<line x1="338.70" y1="317.47" x2="341.70" y2="317.47" stroke="#d2d2d2" stroke-width="0.8"/>
<line x1="338.70" y1="300.42" x2="341.70" y2="300.42" stroke="#d2d2d2" stroke-width="0.8"/>
<line x1="338.70" y1="283.38" x2="341.70" y2="283.38" stroke="#d2d2d2" stroke-width="0.8"/>
<line x1="338.70" y1="266.32" x2="341.70" y2="266.32" stroke="#d2d2d2" stroke-width="0.8"/>
<line x1="363.30" y1="394.20" x2="363.30" y2="398.40" stroke="#d2d2d2" stroke-width="0.9"/>
<text x="361.75" y="409.50" font-size="7.16" font-weight="bold" fill="#111" textLength="3.10" lengthAdjust="spacingAndGlyphs" stroke="#111" stroke-width="0.1">0</text>
<line x1="384.50" y1="394.20" x2="384.50" y2="398.40" stroke="#d2d2d2" stroke-width="0.9"/>
<text x="382.95" y="409.50" font-size="7.16" font-weight="bold" fill="#111" textLength="3.10" lengthAdjust="spacingAndGlyphs" stroke="#111" stroke-width="0.1">8</text>
<line x1="405.70" y1="394.20" x2="405.70" y2="398.40" stroke="#d2d2d2" stroke-width="0.9"/>
<text x="402.52" y="409.50" font-size="7.16" font-weight="bold" fill="#111" textLength="6.20" lengthAdjust="spacingAndGlyphs" stroke="#111" stroke-width="0.1">16</text>
<line x1="426.90" y1="394.20" x2="426.90" y2="398.40" stroke="#d2d2d2" stroke-width="0.9"/>
<text x="423.72" y="409.50" font-size="7.16" font-weight="bold" fill="#111" textLength="6.20" lengthAdjust="spacingAndGlyphs" stroke="#111" stroke-width="0.1">24</text>
<line x1="448.10" y1="394.20" x2="448.10" y2="398.40" stroke="#d2d2d2" stroke-width="0.9"/>
<text x="445.05" y="409.50" font-size="7.16" font-weight="bold" fill="#111" textLength="6.20" lengthAdjust="spacingAndGlyphs" stroke="#111" stroke-width="0.1">32</text>
<line x1="469.30" y1="394.20" x2="469.30" y2="398.40" stroke="#d2d2d2" stroke-width="0.9"/>
<text x="466.27" y="409.50" font-size="7.16" font-weight="bold" fill="#111" textLength="6.20" lengthAdjust="spacingAndGlyphs" stroke="#111" stroke-width="0.1">40</text>
<line x1="490.50" y1="394.20" x2="490.50" y2="398.40" stroke="#d2d2d2" stroke-width="0.9"/>
<text x="487.44" y="409.50" font-size="7.16" font-weight="bold" fill="#111" textLength="6.20" lengthAdjust="spacingAndGlyphs" stroke="#111" stroke-width="0.1">48</text>
<line x1="511.70" y1="394.20" x2="511.70" y2="398.40" stroke="#d2d2d2" stroke-width="0.9"/>
<text x="508.61" y="409.50" font-size="7.16" font-weight="bold" fill="#111" textLength="6.20" lengthAdjust="spacingAndGlyphs" stroke="#111" stroke-width="0.1">56</text>
<text x="400.96" y="238.62" font-size="10.83" font-weight="normal" fill="#111" textLength="56.42" lengthAdjust="spacingAndGlyphs" stroke="#111" stroke-width="0.35">Antithrombin</text>
<text x="359.87" y="425.25" font-size="9.45" font-weight="normal" fill="#111" textLength="17.94" lengthAdjust="spacingAndGlyphs" stroke="#111" stroke-width="0.5">Time</text>
<text x="383.74" y="425.25" font-size="9.45" font-weight="normal" fill="#111" textLength="17.27" lengthAdjust="spacingAndGlyphs" stroke="#111" stroke-width="0.5">Post</text>
<text x="406.75" y="425.25" font-size="9.45" font-weight="normal" fill="#111" textLength="30.26" lengthAdjust="spacingAndGlyphs" stroke="#111" stroke-width="0.5">Infusion</text>
<text x="443.30" y="425.25" font-size="9.45" font-weight="normal" fill="#111" textLength="6.94" lengthAdjust="spacingAndGlyphs" stroke="#111" stroke-width="0.5">of</text>
<text x="455.72" y="425.25" font-size="9.45" font-weight="normal" fill="#111" textLength="30.25" lengthAdjust="spacingAndGlyphs" stroke="#111" stroke-width="0.5">DIC-SA</text>
<text x="491.14" y="425.25" font-size="9.45" font-weight="normal" fill="#111" textLength="20.33" lengthAdjust="spacingAndGlyphs" stroke="#111" stroke-width="0.5">(hrs)</text>
<text x="306.45" y="366.57" font-size="10.32" font-weight="normal" fill="#111" textLength="5.44" lengthAdjust="spacingAndGlyphs" transform="rotate(-90 306.45 366.57)" stroke="#111" stroke-width="0.5">%</text>
<text x="306.45" y="355.36" font-size="10.32" font-weight="normal" fill="#111" textLength="27.78" lengthAdjust="spacingAndGlyphs" transform="rotate(-90 306.45 355.36)" stroke="#111" stroke-width="0.5">Normal</text>
<text x="306.45" y="322.47" font-size="10.32" font-weight="normal" fill="#111" textLength="29.14" lengthAdjust="spacingAndGlyphs" transform="rotate(-90 306.45 322.47)" stroke="#111" stroke-width="0.5">Activity</text>
<line x1="466.70" y1="256.40" x2="475.60" y2="256.40" stroke="#aaa" stroke-width="0.7"/>
<rect x="469.52" y="254.92" width="2.96" height="2.96" fill="#000"/>
<text x="476.78" y="258.55" font-size="6.40" font-weight="bold" fill="#111" textLength="18.81" lengthAdjust="spacingAndGlyphs" stroke="#111" stroke-width="0.1">DIC-SA</text>
<line x1="466.70" y1="263.70" x2="475.60" y2="263.70" stroke="#aaa" stroke-width="0.7"/>
<circle cx="471.00" cy="263.70" r="1.36" fill="#bbb" stroke="#777" stroke-width="0.6"/>
<circle cx="471.00" cy="263.70" r="0.72" fill="#333"/>
<text x="477.04" y="265.85" font-size="6.40" font-weight="bold" fill="#111" textLength="5.96" lengthAdjust="spacingAndGlyphs" stroke="#111" stroke-width="0.1">AT</text>
<text x="488.23" y="265.85" font-size="6.40" font-weight="bold" fill="#111" textLength="11.33" lengthAdjust="spacingAndGlyphs" stroke="#111" stroke-width="0.1">1000</text>
<text x="502.58" y="265.85" font-size="6.40" font-weight="bold" fill="#111" textLength="13.44" lengthAdjust="spacingAndGlyphs" stroke="#111" stroke-width="0.1">IU/kg</text>
<line x1="466.70" y1="271.00" x2="475.60" y2="271.00" stroke="#aaa" stroke-width="0.7"/>
<circle cx="471.00" cy="271.00" r="1.40" fill="#fff" stroke="#808080" stroke-width="0.8"/>
<text x="477.04" y="273.15" font-size="6.40" font-weight="bold" fill="#111" textLength="5.96" lengthAdjust="spacingAndGlyphs" stroke="#111" stroke-width="0.1">AT</text>
<text x="487.98" y="273.15" font-size="6.40" font-weight="bold" fill="#111" textLength="9.20" lengthAdjust="spacingAndGlyphs" stroke="#111" stroke-width="0.1">500</text>
<text x="499.88" y="273.15" font-size="6.40" font-weight="bold" fill="#111" textLength="13.65" lengthAdjust="spacingAndGlyphs" stroke="#111" stroke-width="0.1">IU/kg</text>
<line x1="466.70" y1="278.30" x2="475.60" y2="278.30" stroke="#aaa" stroke-width="0.7"/>
<path d="M471.00 276.95L472.08 278.30L471.00 279.65L469.92 278.30Z" fill="#000"/>
<text x="477.04" y="280.45" font-size="6.40" font-weight="bold" fill="#111" textLength="5.96" lengthAdjust="spacingAndGlyphs" stroke="#111" stroke-width="0.1">AT</text>
<text x="487.96" y="280.45" font-size="6.40" font-weight="bold" fill="#111" textLength="9.22" lengthAdjust="spacingAndGlyphs" stroke="#111" stroke-width="0.1">250</text>
<text x="499.88" y="280.45" font-size="6.40" font-weight="bold" fill="#111" textLength="13.65" lengthAdjust="spacingAndGlyphs" stroke="#111" stroke-width="0.1">IU/kg</text>
<line x1="466.70" y1="285.60" x2="475.60" y2="285.60" stroke="#aaa" stroke-width="0.7"/>
<path d="M471.00 284.20L472.08 286.46L469.92 286.46Z" fill="#111"/>
<text x="477.04" y="287.75" font-size="6.40" font-weight="bold" fill="#111" textLength="5.96" lengthAdjust="spacingAndGlyphs" stroke="#111" stroke-width="0.1">AT</text>
<text x="488.26" y="287.75" font-size="6.40" font-weight="bold" fill="#111" textLength="7.61" lengthAdjust="spacingAndGlyphs" stroke="#111" stroke-width="0.1">125</text>
<text x="499.07" y="287.75" font-size="6.40" font-weight="bold" fill="#111" textLength="14.07" lengthAdjust="spacingAndGlyphs" stroke="#111" stroke-width="0.1">IU/kg</text>
<path d="M363.30 376.13L374.43 379.20L426.90 381.24L490.50 383.29" fill="none" stroke="#777777" stroke-width="0.8"/>
<path d="M363.30 376.13L374.43 270.42L426.90 321.23L490.50 374.08" fill="none" stroke="#777777" stroke-width="0.8"/>
<path d="M363.30 376.13L374.43 301.79L426.90 338.45L490.50 374.59" fill="none" stroke="#777777" stroke-width="0.8"/>
<path d="M363.30 376.13L374.43 317.99L426.90 365.21L490.50 375.79" fill="none" stroke="#777777" stroke-width="0.8"/>
<path d="M363.30 376.13L374.43 341.00L426.90 372.89L490.50 380.56" fill="none" stroke="#777777" stroke-width="0.8"/>
<line x1="373.90" y1="263.60" x2="373.90" y2="277.24" stroke="#9a9a9a" stroke-width="0.7"/>
<line x1="372.70" y1="263.60" x2="375.10" y2="263.60" stroke="#9a9a9a" stroke-width="0.7"/>
<line x1="372.70" y1="277.24" x2="375.10" y2="277.24" stroke="#9a9a9a" stroke-width="0.7"/>
<line x1="373.90" y1="296.67" x2="373.90" y2="306.90" stroke="#9a9a9a" stroke-width="0.7"/>
<line x1="372.70" y1="296.67" x2="375.10" y2="296.67" stroke="#9a9a9a" stroke-width="0.7"/>
<line x1="372.70" y1="306.90" x2="375.10" y2="306.90" stroke="#9a9a9a" stroke-width="0.7"/>
<line x1="373.90" y1="313.72" x2="373.90" y2="322.25" stroke="#9a9a9a" stroke-width="0.7"/>
<line x1="372.70" y1="313.72" x2="375.10" y2="313.72" stroke="#9a9a9a" stroke-width="0.7"/>
<line x1="372.70" y1="322.25" x2="375.10" y2="322.25" stroke="#9a9a9a" stroke-width="0.7"/>
<line x1="373.90" y1="335.89" x2="373.90" y2="346.12" stroke="#9a9a9a" stroke-width="0.7"/>
<line x1="372.70" y1="335.89" x2="375.10" y2="335.89" stroke="#9a9a9a" stroke-width="0.7"/>
<line x1="372.70" y1="346.12" x2="375.10" y2="346.12" stroke="#9a9a9a" stroke-width="0.7"/>
<line x1="426.90" y1="317.82" x2="426.90" y2="324.64" stroke="#9a9a9a" stroke-width="0.7"/>
<line x1="425.70" y1="317.82" x2="428.10" y2="317.82" stroke="#9a9a9a" stroke-width="0.7"/>
<line x1="425.70" y1="324.64" x2="428.10" y2="324.64" stroke="#9a9a9a" stroke-width="0.7"/>
<line x1="426.90" y1="360.95" x2="426.90" y2="369.48" stroke="#9a9a9a" stroke-width="0.7"/>
<line x1="425.70" y1="360.95" x2="428.10" y2="360.95" stroke="#9a9a9a" stroke-width="0.7"/>
<line x1="425.70" y1="369.48" x2="428.10" y2="369.48" stroke="#9a9a9a" stroke-width="0.7"/>
<path d="M363.30 374.37L364.65 377.21L361.95 377.21Z" fill="#111"/>
<path d="M374.43 339.25L375.78 342.08L373.08 342.08Z" fill="#111"/>
<path d="M426.90 371.13L428.25 373.97L425.55 373.97Z" fill="#111"/>
<path d="M490.50 378.81L491.85 381.64L489.15 381.64Z" fill="#111"/>
<path d="M363.30 374.44L364.65 376.13L363.30 377.81L361.95 376.13Z" fill="#000"/>
<path d="M374.43 316.30L375.78 317.99L374.43 319.67L373.08 317.99Z" fill="#000"/>
<path d="M426.90 363.53L428.25 365.21L426.90 366.90L425.55 365.21Z" fill="#000"/>
<path d="M490.50 374.10L491.85 375.79L490.50 377.47L489.15 375.79Z" fill="#000"/>
<circle cx="363.30" cy="376.13" r="1.75" fill="#fff" stroke="#808080" stroke-width="0.8"/>
<circle cx="374.43" cy="301.79" r="1.75" fill="#fff" stroke="#808080" stroke-width="0.8"/>
<circle cx="426.90" cy="338.45" r="1.75" fill="#fff" stroke="#808080" stroke-width="0.8"/>
<circle cx="490.50" cy="374.59" r="1.75" fill="#fff" stroke="#808080" stroke-width="0.8"/>
<circle cx="363.30" cy="376.13" r="1.70" fill="#bbb" stroke="#777" stroke-width="0.6"/>
<circle cx="363.30" cy="376.13" r="0.90" fill="#333"/>
<circle cx="374.43" cy="270.42" r="1.70" fill="#bbb" stroke="#777" stroke-width="0.6"/>
<circle cx="374.43" cy="270.42" r="0.90" fill="#333"/>
<circle cx="426.90" cy="321.23" r="1.70" fill="#bbb" stroke="#777" stroke-width="0.6"/>
<circle cx="426.90" cy="321.23" r="0.90" fill="#333"/>
<circle cx="490.50" cy="374.08" r="1.70" fill="#bbb" stroke="#777" stroke-width="0.6"/>
<circle cx="490.50" cy="374.08" r="0.90" fill="#333"/>
<rect x="361.45" y="374.28" width="3.70" height="3.70" fill="#000"/>
<rect x="372.58" y="377.35" width="3.70" height="3.70" fill="#000"/>
<rect x="425.05" y="379.39" width="3.70" height="3.70" fill="#000"/>
<rect x="488.65" y="381.44" width="3.70" height="3.70" fill="#000"/>
<circle cx="373.60" cy="252.30" r="1.45" fill="#111"/>
<text x="422.66" y="300.93" font-size="8.22" font-weight="normal" fill="#111" textLength="3.89" lengthAdjust="spacingAndGlyphs" stroke="#111" stroke-width="0.35">§</text>
<text x="427.96" y="300.56" font-size="8.45" font-weight="bold" fill="#111" textLength="4.46" lengthAdjust="spacingAndGlyphs" stroke="#111" stroke-width="0.3">¶</text>
<text x="488.43" y="360.42" font-size="8.35" font-weight="normal" fill="#111" textLength="3.95" lengthAdjust="spacingAndGlyphs" stroke="#111" stroke-width="0.35">§</text>
<circle cx="342.1" cy="199.8" r="0.7" fill="#777"/>
</svg>
</body></html>
